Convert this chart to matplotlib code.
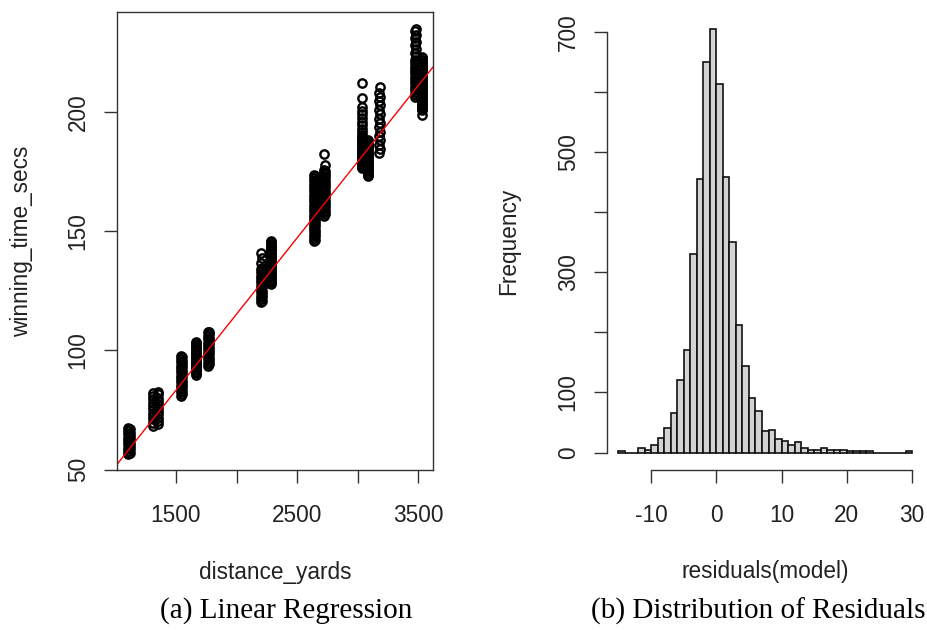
import matplotlib.pyplot as plt

plt.rcParams['font.family'] = ['Liberation Sans', 'DejaVu Sans']
plt.rcParams['axes.unicode_minus'] = False

# ---- (a) winning time vs race distance --------------------------------
# each cluster = runs at two neighbouring distances (yards)
cluster_distances = [(1103, 1121), (1314, 1348), (1538, 1548), (1662, 1668),
                     (1764, 1770), (2200, 2209), (2281, 2286), (2641, 2647),
                     (2724, 2730), (3032, 3038), (3081, 3087), (3177, 3181),
                     (3475, 3481), (3527, 3533)]

# winning times (secs)
cluster_times = [
    [56.4, 57.1, 57.8, 58.5, 59.2, 59.9, 60.6, 61.3, 62.0, 62.7, 63.4, 64.1,
     64.8, 65.5, 66.2, 66.9, 67.3],
    [68.3, 69.0, 69.7, 70.4, 71.1, 71.8, 72.5, 73.2, 73.9, 74.6, 75.3, 76.0,
     76.7, 77.4, 78.1, 78.8, 79.5, 80.2, 80.9, 81.6, 82.3, 82.7],
    [81.0, 81.7, 82.4, 83.1, 83.8, 84.5, 85.2, 85.9, 86.6, 87.3, 88.0, 88.7,
     89.4, 90.1, 90.8, 91.5, 92.2, 92.9, 93.6, 94.3, 95.0, 95.7, 96.4, 97.1,
     97.8],
    [89.7, 90.4, 91.1, 91.8, 92.5, 93.2, 93.9, 94.6, 95.3, 96.0, 96.7, 97.4,
     98.1, 98.8, 99.5, 100.2, 100.9, 101.6, 102.3, 103.0, 103.7],
    [93.5, 94.2, 94.9, 95.6, 96.3, 97.0, 97.7, 98.4, 99.1, 99.8, 100.5, 101.2,
     101.9, 102.6, 103.3, 104.0, 104.7, 105.4, 106.1, 106.8, 107.5, 107.9],
    [120.1, 120.8, 121.5, 122.2, 122.9, 123.6, 124.3, 125.0, 125.7, 126.4,
     127.1, 127.8, 128.5, 129.2, 129.9, 130.6, 131.3, 132.0, 132.7, 133.4,
     134.1, 134.6, 136.7, 138.9, 140.8],
    [127.8, 128.5, 129.2, 129.9, 130.6, 131.3, 132.0, 132.7, 133.4, 134.1,
     134.8, 135.5, 136.2, 136.9, 137.6, 138.3, 139.0, 139.7, 140.4, 141.1,
     141.8, 142.5, 143.2, 143.9, 144.6, 145.3, 146.0],
    [145.7, 146.4, 147.1, 147.8, 148.5, 149.2, 149.9, 150.6, 151.3, 152.0,
     152.7, 153.4, 154.1, 154.8, 155.5, 156.2, 156.9, 157.6, 158.3, 159.0,
     159.7, 160.4, 161.1, 161.8, 162.5, 163.2, 163.9, 164.6, 165.3, 166.0,
     166.7, 167.4, 168.1, 168.8, 169.5, 170.2, 170.9, 171.6, 172.3, 173.0,
     173.4],
    [156.5, 157.2, 157.9, 158.6, 159.3, 160.0, 160.7, 161.4, 162.1, 162.8,
     163.5, 164.2, 164.9, 165.6, 166.3, 167.0, 167.7, 168.4, 169.1, 169.8,
     170.5, 171.2, 171.9, 172.6, 173.3, 174.0, 174.7, 175.4, 175.8, 177.8,
     182.4],
    [176.4, 177.1, 177.8, 178.5, 179.2, 179.9, 180.6, 181.3, 182.0, 182.7,
     183.4, 184.1, 184.8, 185.5, 186.2, 186.9, 187.6, 188.3, 189.0, 189.7,
     190.4, 191.5, 193.0, 194.5, 196.0, 197.5, 199.0, 200.5, 202.0, 205.8,
     212.3],
    [173.0, 173.7, 174.4, 175.1, 175.8, 176.5, 177.2, 177.9, 178.6, 179.3,
     180.0, 180.7, 181.4, 182.1, 182.8, 183.5, 184.2, 184.9, 185.6, 186.3,
     187.0, 187.7, 188.4],
    [182.8, 184.5, 186.3, 188.2, 190.0, 191.8, 193.8, 195.5, 197.3, 199.0,
     200.8, 202.9, 204.5, 206.2, 208.1, 210.4],
    [206.4, 207.1, 207.8, 208.5, 209.2, 209.9, 210.6, 211.3, 212.0, 212.7,
     213.4, 214.1, 214.8, 215.5, 216.2, 216.9, 217.6, 218.3, 219.0, 219.7,
     220.4, 221.1, 221.8, 223.5, 225.0, 226.5, 228.0, 229.5, 231.0, 232.5,
     234.0, 234.7],
    [198.7, 200.8, 201.5, 202.2, 202.9, 203.6, 204.3, 205.0, 205.7, 206.4,
     207.1, 207.8, 208.5, 209.2, 209.9, 210.6, 211.3, 212.0, 212.7, 213.4,
     214.1, 214.8, 215.5, 216.2, 216.9, 217.6, 218.3, 219.0, 219.7, 220.4,
     221.1, 221.8, 222.5, 223.2],
]

# fitted line  winning_time_secs ~ distance_yards
fit_intercept = -12.65
fit_slope = 0.06395

# ---- (b) residual histogram, 1 sec bins starting at -15 -----------------
resid_first_bin = -15
resid_counts = [2, 0, 0, 8, 5, 13, 25, 41, 66, 120, 170, 331, 456, 650, 705,
                614, 459, 350, 213, 144, 91, 69, 36, 38, 23, 19, 13, 18, 8, 4,
                5, 8, 5, 4, 5, 3, 2, 2, 2, 0, 0, 0, 0, 0, 2]

ink = '#222222'
fs = 16.3

fig = plt.figure(figsize=(9.28, 6.32), dpi=100)
ax1 = fig.add_axes([0.1258, 0.2571, 0.3412, 0.7239])
ax2 = fig.add_axes([0.6538, 0.2571, 0.3417, 0.7239])

# scatter
for (d_a, d_b), times in zip(cluster_distances, cluster_times):
    xs = [d_a if i % 2 == 0 else d_b for i in range(len(times))]
    ax1.plot(xs, times, 'o', mfc='none', mec='black', ms=6.0, mew=1.7)
ax1.axline((0, fit_intercept), slope=fit_slope, color='red', lw=1.0)

ax1.set_xlim(1011, 3624)
ax1.set_ylim(50, 242)
ax1.set_xticks([1500, 2000, 2500, 3000, 3500], ['1500', '', '2500', '', '3500'])
ax1.set_yticks([50, 100, 150, 200])
for sp in ax1.spines.values():
    sp.set_color('#333333')
    sp.set_linewidth(1.0)
ax1.tick_params(length=9.5, width=1.0, color='#333333', labelcolor=ink, labelsize=fs)
ax1.tick_params(axis='x', pad=15)
ax1.tick_params(axis='y', pad=10, labelrotation=90)
for lab in ax1.get_yticklabels():
    lab.set_va('center')
ax1.set_xlabel('distance_yards', fontsize=fs, color=ink, va='center')
ax1.xaxis.set_label_coords(0.5, -0.226)
ax1.set_ylabel('winning_time_secs', fontsize=fs, color=ink, va='center')
ax1.yaxis.set_label_coords(-0.30, 0.498)

# histogram
bin_lefts = [resid_first_bin + i for i in range(len(resid_counts))]
ax2.bar(bin_lefts, resid_counts, width=1, align='edge',
        facecolor='#d3d3d3', edgecolor='#111111', linewidth=1.2)
ax2.set_xlim(-16.8, 31.8)
ax2.set_ylim(-28.2, 733.2)
ax2.set_xticks([-10, 0, 10, 20, 30])
ax2.set_yticks([0, 100, 200, 300, 400, 500, 600, 700],
               ['0', '100', '', '300', '', '500', '', '700'])
ax2.spines['top'].set_visible(False)
ax2.spines['right'].set_visible(False)
ax2.spines['left'].set_bounds(0, 700)
ax2.spines['bottom'].set_bounds(-10, 30)
for sp in ax2.spines.values():
    sp.set_color('#333333')
    sp.set_linewidth(1.0)
ax2.tick_params(length=9.5, width=1.0, color='#333333', labelcolor=ink, labelsize=fs)
ax2.tick_params(axis='x', pad=15)
ax2.tick_params(axis='y', pad=10, labelrotation=90)
for lab in ax2.get_yticklabels():
    lab.set_va('center')
ax2.set_xlabel('residuals(model)', fontsize=fs, color=ink, va='center')
ax2.xaxis.set_label_coords(0.5, -0.222)
ax2.set_ylabel('Frequency', fontsize=fs, color=ink, va='center')
ax2.yaxis.set_label_coords(-0.31, 0.498)

# captions
fig.text(286.5 / 928, 1 - 611 / 632, '(a) Linear Regression', ha='center', va='center',
         family=['Liberation Serif', 'DejaVu Serif'], fontsize=21, color='black')
fig.text(757.8 / 928, 1 - 611 / 632, '(b) Distribution of Residuals', ha='center', va='center',
         family=['Liberation Serif', 'DejaVu Serif'], fontsize=21, color='black')

fig.savefig('out.png', dpi=100)
